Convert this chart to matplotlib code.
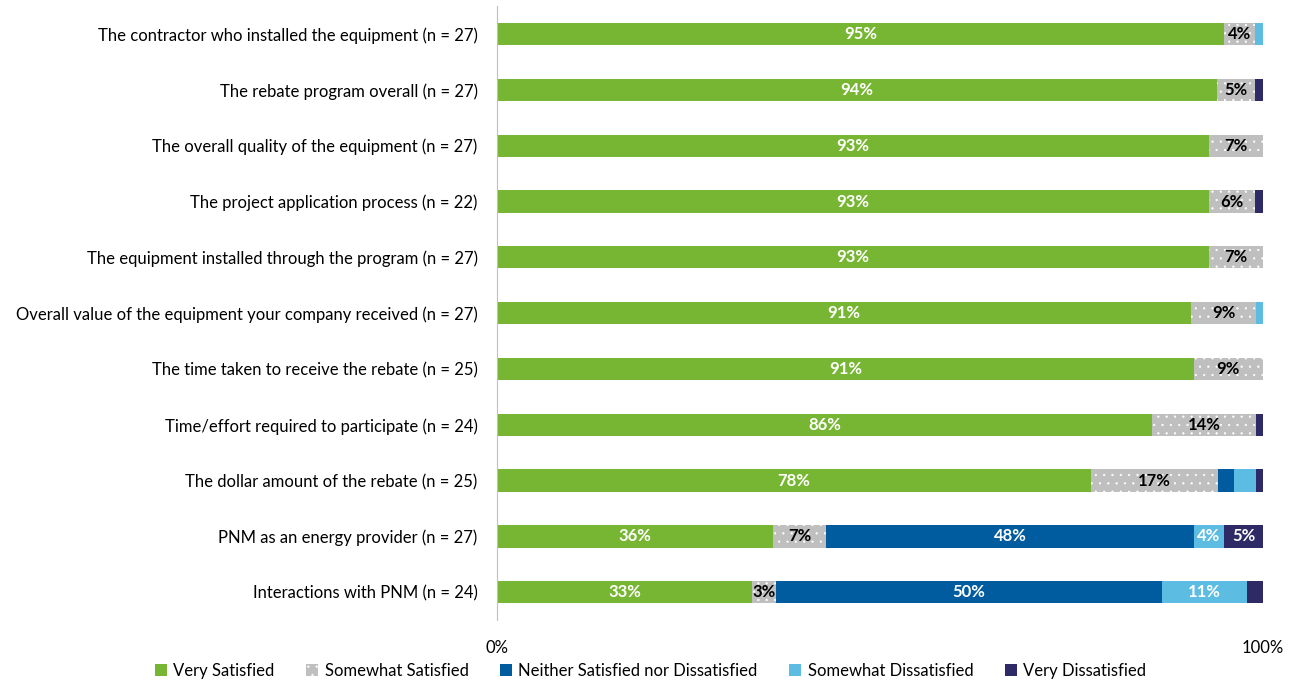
import numpy as np
import matplotlib.pyplot as plt

plt.rcParams['font.family'] = ['Lato', 'DejaVu Sans']
plt.rcParams['hatch.color'] = 'white'
plt.rcParams['hatch.linewidth'] = 0.4

# Satisfaction ratings, percent of respondents
items = [
    "The contractor who installed the equipment (n = 27)",
    "The rebate program overall (n = 27)",
    "The overall quality of the equipment (n = 27)",
    "The project application process (n = 22)",
    "The equipment installed through the program (n = 27)",
    "Overall value of the equipment your company received (n = 27)",
    "The time taken to receive the rebate (n = 25)",
    "Time/effort required to participate (n = 24)",
    "The dollar amount of the rebate (n = 25)",
    "PNM as an energy provider (n = 27)",
    "Interactions with PNM (n = 24)",
]
very_satisfied = [95, 94, 93, 93, 93, 90.6, 91, 85.6, 77.6, 36, 33.3]
somewhat_satisfied = [4, 5, 7, 6, 7, 8.6, 9, 13.6, 16.6, 7, 3.1]
neither = [0, 0, 0, 0, 0, 0, 0, 0, 2.1, 48, 50.4]
somewhat_dissatisfied = [1, 0, 0, 0, 0, 0.8, 0, 0, 2.9, 4, 11.2]
very_dissatisfied = [0, 1, 0, 1, 0, 0, 0, 0.8, 0.8, 5, 2.0]

series = [
    ("Very Satisfied", very_satisfied, "#77B632", "white", None),
    ("Somewhat Satisfied", somewhat_satisfied, "#BFBFBF", "black", ".."),
    ("Neither Satisfied nor Dissatisfied", neither, "#005C9E", "white", None),
    ("Somewhat Dissatisfied", somewhat_dissatisfied, "#5CBCE2", "white", None),
    ("Very Dissatisfied", very_dissatisfied, "#2E2A66", "white", None),
]

fig = plt.figure(figsize=(12.91, 6.83), dpi=100)
ax = fig.add_axes([0.385, 0.092, 0.593, 0.899])

y = np.arange(len(items))
left = np.zeros(len(items))
handles = []
for name, vals, color, txt_color, hatch in series:
    vals = np.array(vals, dtype=float)
    if hatch:
        bars = ax.barh(y, vals, left=left, height=0.4, color=color,
                       edgecolor="white", linewidth=0, hatch=hatch, label=name)
    else:
        bars = ax.barh(y, vals, left=left, height=0.4, color=color,
                       linewidth=0, label=name)
    handles.append(bars)
    for i, v in enumerate(vals):
        if v >= 3:
            ax.text(left[i] + v / 2, y[i], f"{v:.0f}%", ha="center", va="center",
                    color=txt_color, fontsize=12, fontweight="bold")
    left += vals

ax.set_xlim(0, 100)
ax.set_ylim(len(items) - 0.5, -0.5)
ax.set_yticks(y)
ax.set_yticklabels(items, fontsize=12)
ax.set_xticks([0, 100])
ax.set_xticklabels(["0%", "100%"], fontsize=12)
ax.tick_params(axis="both", length=0)
ax.tick_params(axis="y", pad=14)
ax.tick_params(axis="x", pad=14)
for side in ["top", "right", "bottom"]:
    ax.spines[side].set_visible(False)
ax.spines["left"].set_color("#BFBFBF")

fig.legend(handles=handles, loc="lower center", bbox_to_anchor=(0.504, -0.016),
           ncol=5, frameon=False, fontsize=12, handlelength=0.7, handleheight=0.7,
           handletextpad=0.4, columnspacing=1.9)

fig.savefig("out.png", dpi=100)
